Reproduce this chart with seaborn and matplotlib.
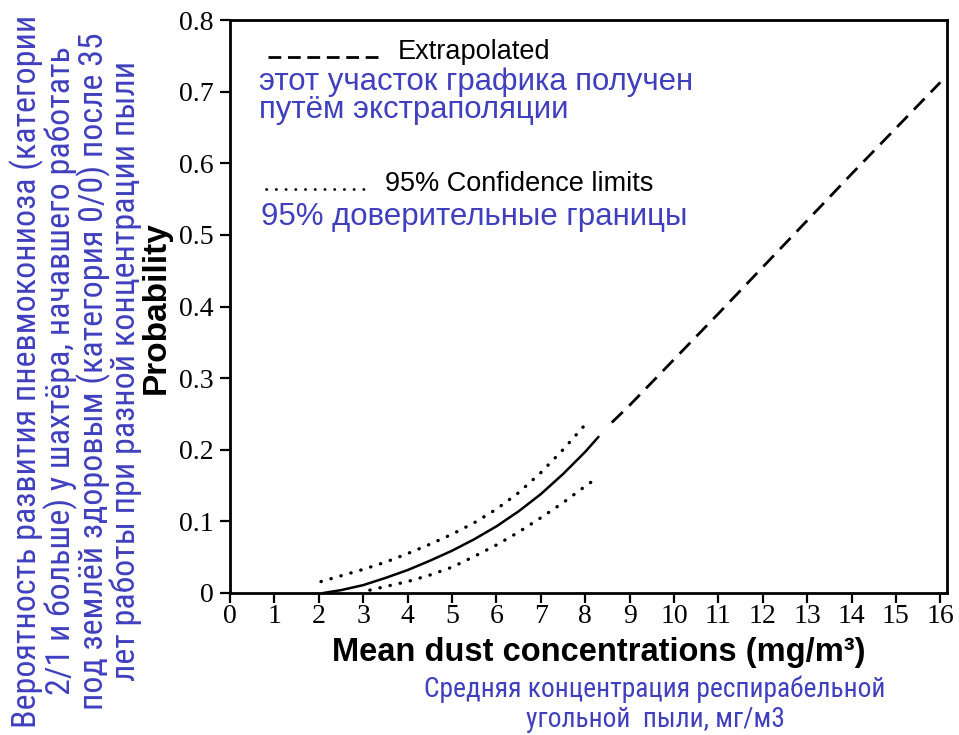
import matplotlib
matplotlib.use("Agg")
import matplotlib.pyplot as plt
from matplotlib.lines import Line2D
import seaborn as sns

# Fitted probability curve (observed range)
fit_x = [2.1, 2.5, 3.0, 3.5, 4.0, 4.5, 5.0, 5.5, 6.0, 6.5, 7.0, 7.5, 8.0, 8.3]
fit_y = [0.000, 0.004, 0.011, 0.021, 0.032, 0.045, 0.059, 0.075, 0.093, 0.114, 0.138, 0.166, 0.197, 0.218]

# Upper 95% confidence limit
upper_x = [2.05, 2.5, 3.0, 3.5, 4.0, 4.5, 5.0, 5.5, 6.0, 6.5, 7.0, 7.5, 8.1]
upper_y = [0.016, 0.024, 0.033, 0.043, 0.055, 0.068, 0.082, 0.098, 0.117, 0.140, 0.168, 0.200, 0.242]

# Lower 95% confidence limit
lower_x = [3.15, 3.5, 4.0, 4.5, 5.0, 5.5, 6.0, 6.5, 7.0, 7.5, 8.0, 8.3]
lower_y = [0.004, 0.009, 0.016, 0.025, 0.036, 0.051, 0.067, 0.085, 0.105, 0.126, 0.149, 0.162]

# Extrapolated part of the curve
extra_x = [8.6, 9.0, 10.0, 11.0, 12.0, 13.0, 14.0, 15.0, 16.0]
extra_y = [0.238, 0.262, 0.326, 0.390, 0.455, 0.520, 0.585, 0.649, 0.713]

x_ticks = list(range(0, 17))
y_ticks = [0, 0.1, 0.2, 0.3, 0.4, 0.5, 0.6, 0.7, 0.8]
y_tick_labels = ["0", "0.1", "0.2", "0.3", "0.4", "0.5", "0.6", "0.7", "0.8"]

sns.set_style("ticks")
plt.rcParams["font.family"] = ["Liberation Sans", "DejaVu Sans"]
plt.rcParams["text.color"] = "black"
plt.rcParams["xtick.color"] = "black"
plt.rcParams["ytick.color"] = "black"

W, H = 959, 735
fig = plt.figure(figsize=(W / 100, H / 100), dpi=100)
ax = fig.add_axes([230 / W, 1 - 593 / H, (947 - 230) / W, (593 - 20) / H])

BLUE = "#4040bf"
NARROW = ["Roboto Condensed", "PT Sans Narrow", "Fira Sans Condensed", "DejaVu Sans"]
SERIF = ["Liberation Serif", "DejaVu Serif"]

sns.lineplot(x=fit_x, y=fit_y, ax=ax, color="black", linewidth=1.8, sort=False)
sns.lineplot(x=upper_x, y=upper_y, ax=ax, color="black", linewidth=2.4,
             linestyle=(0, (0.1, 3.0)), dash_capstyle="round", sort=False)
sns.lineplot(x=lower_x, y=lower_y, ax=ax, color="black", linewidth=2.4,
             linestyle=(0, (0.1, 3.0)), dash_capstyle="round", sort=False)
sns.lineplot(x=extra_x, y=extra_y, ax=ax, color="black", linewidth=2.0,
             linestyle=(0, (5.5, 3.2)), sort=False)

ax.set_xlim(0, 16.15)
ax.set_ylim(0, 0.8)
ax.set_xticks(x_ticks)
ax.set_xticklabels([str(v) for v in x_ticks], family=SERIF, fontsize=20)
ax.set_yticks(y_ticks)
ax.set_yticklabels(y_tick_labels, family=SERIF, fontsize=20)
ax.tick_params(axis="both", direction="out", length=7, width=1.6, color="black",
               labelcolor="black")
ax.tick_params(axis="x", pad=1)
ax.tick_params(axis="y", pad=5)
for side in ["left", "bottom", "right", "top"]:
    ax.spines[side].set_visible(True)
    ax.spines[side].set_linewidth(2.0)
    ax.spines[side].set_color("black")
ax.set_xlabel("")
ax.set_ylabel("")


def fx(px):
    return px / W


def fy(py):
    return 1 - py / H


# Axis titles
fig.text(fx(156), fy(308), "Probability", rotation=90, ha="center", va="center",
         fontsize=24, fontweight="bold")
fig.text(fx(599), fy(652), "Mean dust concentrations (mg/m³)", ha="center", va="center",
         fontsize=23.5, fontweight="bold")
fig.text(fx(655), fy(704), "Средняя концентрация респирабельной\nугольной  пыли, мг/м3",
         ha="center", va="center", fontsize=19.8, color=BLUE, family=NARROW,
         linespacing=1.15, multialignment="center")
fig.text(fx(76), fy(371),
         "Вероятность развития пневмокониоза (категории\n"
         "2/1 и больше) у шахтёра, начавшего работать\n"
         "под землёй здоровым (категория 0/0) после 35\n"
         "лет работы при разной концентрации пыли",
         rotation=90, ha="center", va="center", fontsize=24.5, color=BLUE,
         family=NARROW, linespacing=0.95, multialignment="center")

# Key: extrapolated segment and confidence limits
fig.add_artist(Line2D([fx(268), fx(384)], [fy(57), fy(57)], color="black",
                      linewidth=2.0, linestyle=(0, (4.6, 2.4))))
fig.text(fx(398), fy(52), "Extrapolated", ha="left", va="center", fontsize=19.5)
fig.text(fx(259), fy(96), "этот участок графика получен\nпутём экстраполяции",
         ha="left", va="center", fontsize=22.4, color=BLUE, linespacing=0.95)
fig.add_artist(Line2D([fx(266), fx(368)], [fy(189), fy(189)], color="black",
                      linewidth=2.0, linestyle=(0, (0.1, 3.4)), dash_capstyle="round"))
fig.text(fx(385), fy(184), "95% Confidence limits", ha="left", va="center", fontsize=19.5)
fig.text(fx(261), fy(217), "95% доверительные границы", ha="left", va="center",
         fontsize=22.5, color=BLUE)

fig.savefig("out.png", dpi=100, facecolor="white")
